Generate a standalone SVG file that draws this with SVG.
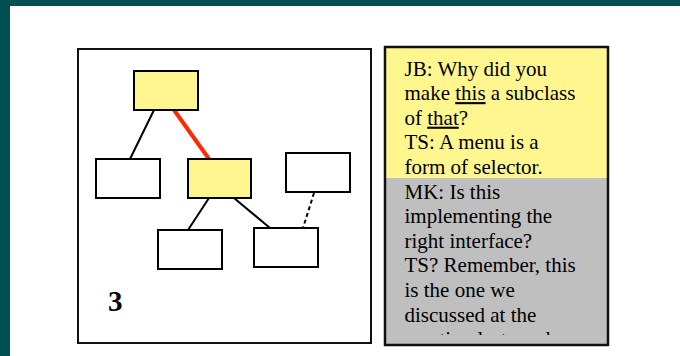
<svg xmlns="http://www.w3.org/2000/svg" width="680" height="356" viewBox="0 0 680 356">
<style>
.node{stroke:#000;stroke-width:2}
.y{fill:#FFF68F}
.w{fill:#fff}
.edge{stroke:#000;stroke-width:2;fill:none}
.red{stroke:#FF2A00;stroke-width:4}
.dash{stroke-dasharray:4 3}
.t{font-family:"Liberation Serif","Times New Roman",serif;font-size:21px;fill:#000}
</style>
<defs>
<clipPath id="panelClip"><rect x="386" y="48" width="221" height="287"/></clipPath>
</defs>
<rect x="0" y="0" width="680" height="356" fill="#fff"/>
<rect x="0" y="0" width="680" height="6" fill="#004F51"/>
<rect x="0" y="0" width="10" height="356" fill="#004F51"/>
<g id="diagram-frame">
<rect x="78" y="49" width="293" height="294" fill="#fff" stroke="#111" stroke-width="2"/>
</g>
<g id="connectors">
<line class="edge" x1="154" y1="110" x2="130" y2="159"/>
<line class="edge red" x1="174" y1="110" x2="209" y2="159"/>
<line class="edge" x1="209" y1="198" x2="188" y2="230"/>
<line class="edge" x1="234" y1="198" x2="270" y2="228"/>
<line class="edge dash" x1="314" y1="193" x2="303" y2="228"/>
</g>
<g id="node-top"><rect class="node y" x="134" y="71" width="64" height="39"/></g>
<g id="node-left"><rect class="node w" x="96" y="159" width="64" height="39"/></g>
<g id="node-mid"><rect class="node y" x="188" y="159" width="63" height="39"/></g>
<g id="node-right"><rect class="node w" x="286" y="153" width="64" height="39"/></g>
<g id="node-bottom-left"><rect class="node w" x="158" y="230" width="64" height="39"/></g>
<g id="node-bottom-right"><rect class="node w" x="254" y="228" width="64" height="39"/></g>
<g id="label-3">
<text x="108" y="311" font-family="Liberation Serif,'Times New Roman',serif" font-size="29" font-weight="bold" fill="#000">3</text>
</g>
<g id="notes-panel">
<rect x="385" y="47" width="223" height="131" fill="#FFF68F"/>
<rect x="385" y="178" width="223" height="167" fill="#BFBFBF"/>
<rect x="385" y="47" width="223" height="298" fill="none" stroke="#111" stroke-width="2.5"/>
<g class="t">
<text x="404.5" y="75.5">JB: Why did you</text>
<text x="404.5" y="100.1">make <tspan text-decoration="underline">this</tspan> a subclass</text>
<text x="404.5" y="124.7">of <tspan text-decoration="underline">that</tspan>?</text>
<text x="404.5" y="149.3">TS: A menu is a</text>
<text x="404.5" y="173.9">form of selector.</text>
<text x="404.5" y="198.5">MK: Is this</text>
<text x="404.5" y="223.1">implementing the</text>
<text x="404.5" y="247.7">right interface?</text>
<text x="404.5" y="272.3">TS? Remember, this</text>
<text x="404.5" y="296.9">is the one we</text>
<text x="404.5" y="321.5">discussed at the</text>
<text x="404.5" y="346.1" clip-path="url(#panelClip)">meeting last week</text>
</g>
</g>
</svg>
